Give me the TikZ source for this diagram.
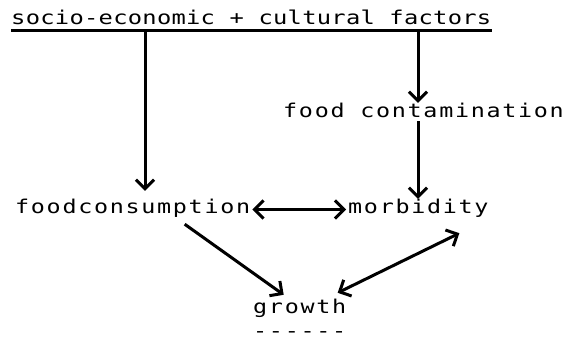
\documentclass[tikz,border=0pt]{standalone}
\usepackage{fontspec}
\newfontfamily\typew[FakeStretch=1.23,LetterSpace=9]{DejaVu Sans Mono}
\newfontfamily\typewhd[FakeStretch=1.25,LetterSpace=1.5]{DejaVu Sans Mono}
\usetikzlibrary{arrows.meta}

\begin{document}
\begin{tikzpicture}[x=1pt,y=-1pt,
	lbl/.style={font=\typew\fontsize{19}{23}\selectfont, anchor=base west, inner sep=2pt, text height=13pt, text depth=4pt},
	hd/.style={font=\typewhd\fontsize{19}{23}\selectfont, anchor=base west, inner sep=0pt, text height=13pt, text depth=5.5pt},
	link/.style={line width=3pt, -{Straight Barb[length=9pt,width=18pt]}},
	both/.style={line width=3pt, {Straight Barb[length=9pt,width=18pt]}-{Straight Barb[length=9pt,width=18pt]}}]
	\useasboundingbox (0,0) rectangle (573,339);
	% labels
	\node[hd] (title) at (11,25) {socio-economic + cultural factors};
	\node[lbl] (contam) at (281,118) {food contamination};
	\node[lbl] (fcons) at (13,214) {foodconsumption};
	\node[lbl] (morb) at (346,214) {morbidity};
	\node[lbl] (growth) at (251,313) {growth};
	\node[lbl, inner sep=0pt, text height=6pt, text depth=0pt] (bar) at ([xshift=2pt,yshift=-24pt]growth.base west) {------};
	% underline and arrows
	\draw[line width=3.5pt] (title.south west) -- (title.south east);
	\coordinate (lft) at ([xshift=134pt]title.south west);
	\coordinate (rgt) at ([xshift=407pt]title.south west);
	\draw[link] (lft) -- ([yshift=8pt]lft |- fcons.north);
	\draw[link] (rgt) -- (rgt |- contam.north);
	\draw[link] ([yshift=3pt]contam.south -| rgt) -- (rgt |- morb.north);
	\draw[both] (fcons.east) -- (morb.west);
	\draw[link] ([xshift=52pt,yshift=-4pt]fcons.south) -- ([xshift=-16pt,yshift=3pt]growth.north);
	\draw[both] ([xshift=38pt,yshift=5pt]growth.north) -- ([xshift=41pt,yshift=-13pt]morb.south);
\end{tikzpicture}
\end{document}
